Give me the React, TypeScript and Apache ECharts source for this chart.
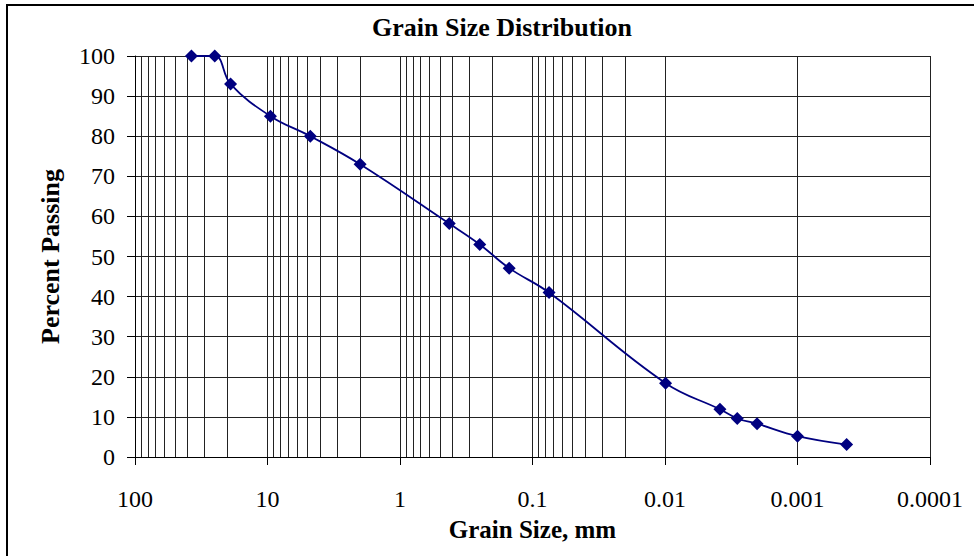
import React, { useEffect, useRef } from "react";
import * as echarts from "echarts";

// Grain sizes (mm) and percent passing
const grainSizes = [37.5, 25, 19, 9.5, 4.75, 2.0, 0.425, 0.25, 0.15, 0.075, 0.0099, 0.00385, 0.00285, 0.00202, 0.001, 0.000426];
const percentPassing = [100, 100, 93, 85, 80, 73, 58.2, 53, 47.1, 41, 18.4, 11.9, 9.6, 8.3, 5.2, 3.1];

const xTickLabels = ["100", "10", "1", "0.1", "0.01", "0.001", "0.0001"];
const yTickLabels = ["0", "10", "20", "30", "40", "50", "60", "70", "80", "90", "100"];

// minor log gridlines: 2..9 x each decade
const decadeBases = [0.0001, 0.001, 0.01, 0.1, 1, 10];
const minorMultipliers = [2, 3, 4, 5, 6, 7, 8, 9];

const FONT = '"Liberation Serif", "Times New Roman", serif';

export default function App() {
  const ref = useRef<HTMLDivElement>(null);

  useEffect(() => {
    if (!ref.current) return;
    const chart = echarts.init(ref.current, null, { renderer: "svg" });

    const minorLines: any[] = [];
    decadeBases.forEach((b) => {
      minorMultipliers.forEach((m) => {
        minorLines.push({ xAxis: parseFloat((b * m).toPrecision(6)) });
      });
    });

    const fmtX = (v: number) => {
      const lv = Math.log10(v);
      const found = xTickLabels.find((t) => Math.abs(Math.log10(parseFloat(t)) - lv) < 1e-6);
      return found ?? "";
    };

    chart.setOption({
      animation: false,
      backgroundColor: "#fff",
      title: {
        text: "Grain Size Distribution",
        left: 497,
        top: 9,
        textAlign: "center",
        textStyle: { fontFamily: FONT, fontWeight: "bold", fontSize: 26, color: "#000" },
      },
      graphic: [
        {
          type: "rect",
          shape: { x: 7, y: 5, width: 990, height: 580 },
          style: { fill: "none", stroke: "#000", lineWidth: 2 },
          silent: true,
          z: 100,
        },
      ],
      grid: { left: 135, top: 56, width: 795, height: 401 },
      xAxis: {
        type: "log",
        logBase: 10,
        inverse: true,
        min: 0.0001,
        max: 100,
        splitNumber: 6,
        name: "Grain Size, mm",
        nameLocation: "middle",
        nameGap: 60,
        nameTextStyle: { fontFamily: FONT, fontWeight: "bold", fontSize: 25, color: "#000" },
        axisLine: { show: true, onZero: false, lineStyle: { color: "#000", width: 1 } },
        axisTick: { show: true, length: 8, lineStyle: { color: "#000" } },
        axisLabel: { fontFamily: FONT, fontSize: 24, color: "#000", margin: 30, formatter: fmtX },
        splitLine: { show: true, lineStyle: { color: "#222", width: 1 } },
      },
      yAxis: {
        type: "value",
        min: 0,
        max: 100,
        interval: 10,
        name: "Percent Passing",
        nameLocation: "middle",
        nameRotate: 90,
        nameGap: 72,
        nameTextStyle: { fontFamily: FONT, fontWeight: "bold", fontSize: 26, color: "#000" },
        axisLine: { show: true, lineStyle: { color: "#000", width: 1 } },
        axisTick: { show: true, length: 8, lineStyle: { color: "#000" } },
        axisLabel: {
          fontFamily: FONT,
          fontSize: 24,
          color: "#000",
          margin: 20,
          formatter: (v: number) => yTickLabels[Math.round(v / 10)] ?? String(v),
        },
        splitLine: { show: true, lineStyle: { color: "#222", width: 1 } },
      },
      series: [
        {
          type: "line",
          data: [],
          silent: true,
          z: 1,
          markLine: {
            silent: true,
            symbol: "none",
            animation: false,
            label: { show: false },
            lineStyle: { color: "#222", width: 1, type: "solid" },
            emphasis: { disabled: true },
            data: minorLines,
          },
        },
        {
          type: "line",
          z: 5,
          smooth: 0.4,
          clip: false,
          symbol: "diamond",
          symbolSize: 13,
          lineStyle: { color: "#000080", width: 1.8 },
          itemStyle: { color: "#000080" },
          data: grainSizes.map((s, i) => [s, percentPassing[i]]),
        },
      ],
    });

    return () => chart.dispose();
  }, []);

  return (
    <div
      ref={ref}
      style={{ position: "fixed", left: 0, top: 0, width: 974, height: 556, background: "#fff" }}
    />
  );
}
